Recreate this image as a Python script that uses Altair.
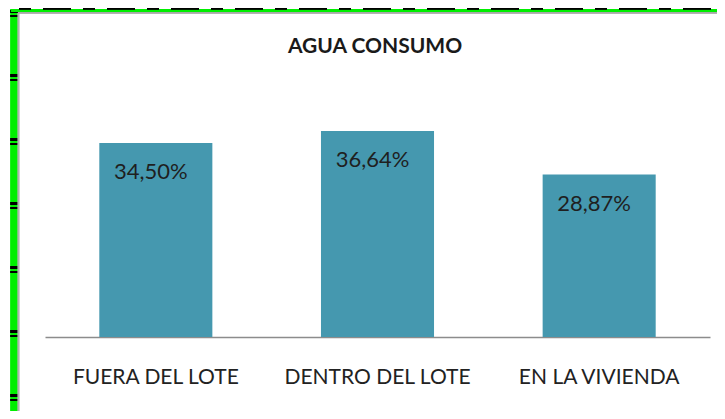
import altair as alt
import pandas as pd

categories = ["FUERA DEL LOTE", "DENTRO DEL LOTE", "EN LA VIVIENDA"]
values = [34.50, 36.64, 28.87]
title_text = "AGUA CONSUMO"

df = pd.DataFrame({"cat": categories, "val": values})

FONT = "Lato"
BAR = "#4598AF"

base = alt.Chart(df)

x_enc = alt.X("cat:N", sort=categories, title=None,
              scale=alt.Scale(paddingInner=0.49, paddingOuter=0.245),
              axis=alt.Axis(labelAngle=0, ticks=False, domainColor="#8c8c8c",
                            domainWidth=1.5, labelPadding=29, labelFontSize=21,
                            labelLimit=400,
                            labelFont=FONT, labelColor="#222222", grid=False))
y_enc = alt.Y("val:Q", title=None, scale=alt.Scale(domain=[0, 40], nice=False),
              axis=None)

bars = base.mark_bar(color=BAR).encode(x=x_enc, y=y_enc)

labels = base.transform_calculate(
    lab="replace(format(datum.val, '.2f'), '.', ',') + '%'"
).mark_text(font=FONT, fontSize=22, color="#1f1f1f", baseline="middle",
            align="center", dy=29, dx=-5).encode(
    x=alt.X("cat:N", sort=categories), y="val:Q", text="lab:N")

title_mark = alt.Chart(pd.DataFrame({"t": [title_text]})).mark_text(
    font=FONT, fontSize=21, fontWeight="bold", color="#1a1a1a",
    align="center", baseline="middle").encode(
    text="t:N", x=alt.value(330), y=alt.value(-65))

# decorative frame (screen capture border)
green_left = alt.Chart(df).mark_rule(color="#00ee00", strokeWidth=7).encode(
    x=alt.value(-31), y=alt.value(-103), y2=alt.value(320))
ticks_left = alt.Chart(df).mark_rule(color="#000000", strokeWidth=7,
                                     strokeDash=[3, 2, 2, 57]).encode(
    x=alt.value(-31), y=alt.value(-102), y2=alt.value(320))
gray_left = alt.Chart(df).mark_rule(color="#b0b0b0", strokeWidth=1.5).encode(
    x=alt.value(-26.5), y=alt.value(-99), y2=alt.value(320))
green_top = alt.Chart(df).mark_rule(color="#00ee00", strokeWidth=3).encode(
    y=alt.value(-101.5), x=alt.value(-34), x2=alt.value(690))
gray_top = alt.Chart(df).mark_rule(color="#a8a8a8", strokeWidth=1.5).encode(
    y=alt.value(-99.3), x=alt.value(-27), x2=alt.value(690))
dash_top = alt.Chart(df).mark_rule(color="#000000", strokeWidth=2,
                                   strokeDash=[12, 12, 28, 12]).encode(
    y=alt.value(-103.5), x=alt.value(-26), x2=alt.value(690))
gray_bottom = alt.Chart(df).mark_rule(color="#d0d0d0", strokeWidth=1.5).encode(
    y=alt.value(305.5), x=alt.value(-26), x2=alt.value(690))

chart = alt.layer(
    green_left, ticks_left, gray_left, green_top, gray_top, dash_top, gray_bottom,
    bars, labels, title_mark
).properties(
    width=665, height=225,
    padding={"left": 37, "top": 104, "right": 7, "bottom": 74},
    autosize=alt.AutoSizeParams(type="none"),
    background="white",
).configure_view(stroke=None)

chart.save("out.html", embed_options={"renderer": "svg", "actions": False})
